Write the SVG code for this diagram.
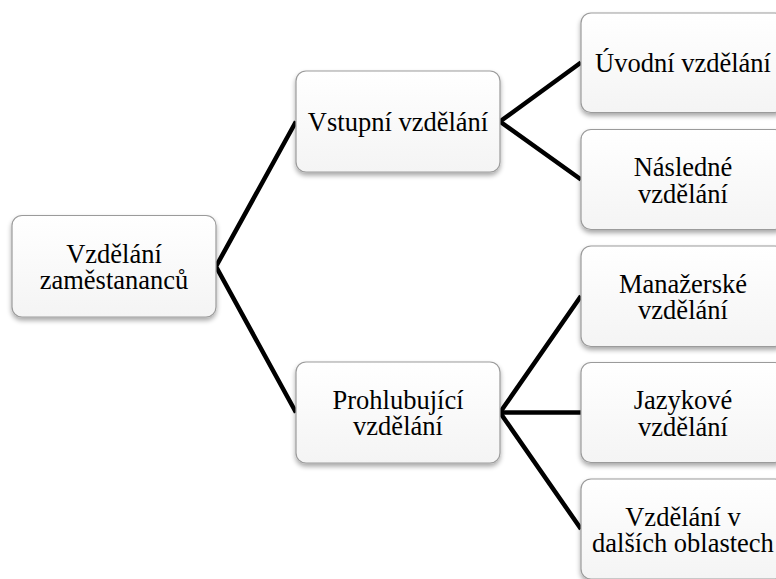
<svg xmlns="http://www.w3.org/2000/svg" width="776" height="579" viewBox="0 0 776 579">
<defs>
<linearGradient id="g" x1="0" y1="0" x2="0" y2="1">
<stop offset="0" stop-color="#ffffff"/>
<stop offset="1" stop-color="#f4f4f4"/>
</linearGradient>
<filter id="sh" x="-10%" y="-10%" width="125%" height="130%">
<feGaussianBlur in="SourceAlpha" stdDeviation="2.5"/>
<feOffset dx="0" dy="3" result="b"/>
<feComponentTransfer><feFuncA type="linear" slope="0.35"/></feComponentTransfer>
<feMerge><feMergeNode/><feMergeNode in="SourceGraphic"/></feMerge>
</filter>
</defs>
<style>
.box{fill:url(#g);stroke:#9b9b9b;stroke-width:1.2;filter:url(#sh)}
.t{font-size:26.5px;fill:#000;text-anchor:middle}
.c{stroke:#000;stroke-width:4.5;fill:none;stroke-linejoin:miter}
</style>
<rect width="776" height="579" fill="#ffffff"/>
<g id="connectors">
<polyline class="c" points="296,121.5 216,266.5 296,412.5"/>
<polyline class="c" points="581,62.5 500,121.5 581,179.5"/>
<polyline class="c" points="581,296 500,412.5 581,529"/>
<line class="c" x1="500" y1="412.5" x2="581" y2="412.5"/>
</g>
<g id="n-root">
<rect class="box" x="12" y="215.5" width="204" height="101.5" rx="10"/>
<text class="t" font-family="Liberation Serif" x="114" y="262.5">Vzdělání</text>
<text class="t" font-family="Liberation Serif" x="114" y="289">zaměstananců</text>
</g>
<g id="n-vstupni">
<rect class="box" x="296" y="71" width="204" height="101" rx="10"/>
<text class="t" font-family="Liberation Serif" x="398" y="131">Vstupní vzdělání</text>
</g>
<g id="n-prohlubujici">
<rect class="box" x="296" y="362" width="204" height="101" rx="10"/>
<text class="t" font-family="Liberation Serif" x="398" y="408.5">Prohlubující</text>
<text class="t" font-family="Liberation Serif" x="398" y="435">vzdělání</text>
</g>
<g id="n-uvodni">
<rect class="box" x="581" y="13" width="204" height="99.5" rx="10"/>
<text class="t" font-family="Liberation Serif" x="683" y="72">Úvodní vzdělání</text>
</g>
<g id="n-nasledne">
<rect class="box" x="581" y="129.5" width="204" height="100" rx="10"/>
<text class="t" font-family="Liberation Serif" x="683" y="176">Následné</text>
<text class="t" font-family="Liberation Serif" x="683" y="202.5">vzdělání</text>
</g>
<g id="n-manazerske">
<rect class="box" x="581" y="246" width="204" height="100.5" rx="10"/>
<text class="t" font-family="Liberation Serif" x="683" y="292.5">Manažerské</text>
<text class="t" font-family="Liberation Serif" x="683" y="319">vzdělání</text>
</g>
<g id="n-jazykove">
<rect class="box" x="581" y="362.5" width="204" height="100" rx="10"/>
<text class="t" font-family="Liberation Serif" x="683" y="409">Jazykové</text>
<text class="t" font-family="Liberation Serif" x="683" y="435.5">vzdělání</text>
</g>
<g id="n-dalsi">
<rect class="box" x="581" y="479" width="204" height="100" rx="10"/>
<text class="t" font-family="Liberation Serif" x="683" y="525.5">Vzdělání v</text>
<text class="t" font-family="Liberation Serif" x="683" y="552">dalších oblastech</text>
</g>
</svg>
